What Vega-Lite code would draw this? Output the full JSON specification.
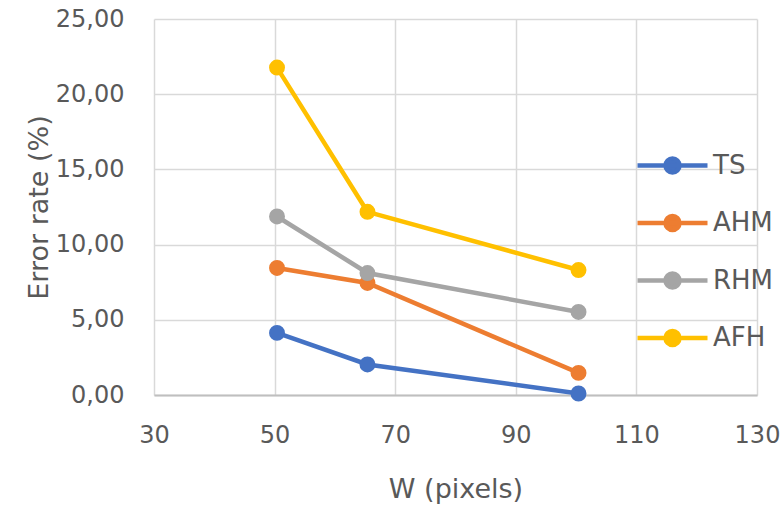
{
  "$schema": "https://vega.github.io/schema/vega-lite/v6.json",
  "width": 603,
  "height": 376,
  "autosize": {"type": "none"},
  "padding": {"left": 154, "top": 19, "right": 27, "bottom": 111},
  "background": "white",
  "config": {
    "view": {"stroke": null},
    "font": "DejaVu Sans",
    "axis": {
      "gridColor": "#d9d9d9",
      "gridWidth": 1.5,
      "ticks": false,
      "labelColor": "#595959",
      "titleColor": "#595959",
      "labelFontSize": 24,
      "titleFontSize": 27,
      "titleFontWeight": "normal",
      "labelFont": "DejaVu Sans",
      "titleFont": "DejaVu Sans",
      "labelFlush": false
    }
  },
  "data": {
    "values": [
      {"series": "TS", "W": 50.4, "rate": 4.13},
      {"series": "TS", "W": 65.4, "rate": 2.03},
      {"series": "TS", "W": 100.4, "rate": 0.1},
      {"series": "AHM", "W": 50.4, "rate": 8.45},
      {"series": "AHM", "W": 65.4, "rate": 7.45},
      {"series": "AHM", "W": 100.4, "rate": 1.47},
      {"series": "RHM", "W": 50.4, "rate": 11.87},
      {"series": "RHM", "W": 65.4, "rate": 8.11},
      {"series": "RHM", "W": 100.4, "rate": 5.52},
      {"series": "AFH", "W": 50.4, "rate": 21.77},
      {"series": "AFH", "W": 65.4, "rate": 12.18},
      {"series": "AFH", "W": 100.4, "rate": 8.31}
    ]
  },
  "encoding": {
    "x": {
      "field": "W",
      "type": "quantitative",
      "scale": {"domain": [30, 130], "nice": false, "zero": false},
      "axis": {
        "values": [30, 50, 70, 90, 110, 130],
        "title": "W (pixels)",
        "domain": true,
        "domainColor": "#bfbfbf",
        "domainWidth": 2,
        "labelPadding": 28,
        "titlePadding": 29
      }
    },
    "y": {
      "field": "rate",
      "type": "quantitative",
      "scale": {"domain": [0, 25], "nice": false},
      "axis": {
        "values": [0, 5, 10, 15, 20, 25],
        "title": "Error rate (%)",
        "domain": false,
        "labelPadding": 30,
        "titlePadding": 2,
        "labelExpr": "replace(format(datum.value, '.2f'), '.', ',')"
      }
    },
    "color": {
      "field": "series",
      "type": "nominal",
      "sort": ["TS", "AHM", "RHM", "AFH"],
      "scale": {
        "domain": ["TS", "AHM", "RHM", "AFH"],
        "range": ["#4472C4", "#ED7D31", "#A5A5A5", "#FFC000"]
      },
      "legend": {
        "orient": "none",
        "legendX": 481,
        "legendY": 109,
        "title": null,
        "symbolType": "M-1,0H1M-0.2,0A0.2,0.2,0,1,0,0.2,0A0.2,0.2,0,1,0,-0.2,0Z",
        "symbolSize": 4900,
        "symbolStrokeWidth": 4.5,
        "labelFontSize": 26,
        "labelColor": "#595959",
        "labelFont": "DejaVu Sans",
        "labelOffset": 3,
        "rowPadding": 3.5,
        "encode": {
          "symbols": {
            "update": {
              "fill": {"scale": "color", "field": "value"},
              "stroke": {"scale": "color", "field": "value"},
              "strokeWidth": {"value": 4.5},
              "opacity": {"value": 1}
            }
          }
        }
      }
    }
  },
  "layer": [
    {"mark": {"type": "line", "strokeWidth": 4.5}},
    {"mark": {"type": "circle", "size": 254, "opacity": 1}}
  ]
}
